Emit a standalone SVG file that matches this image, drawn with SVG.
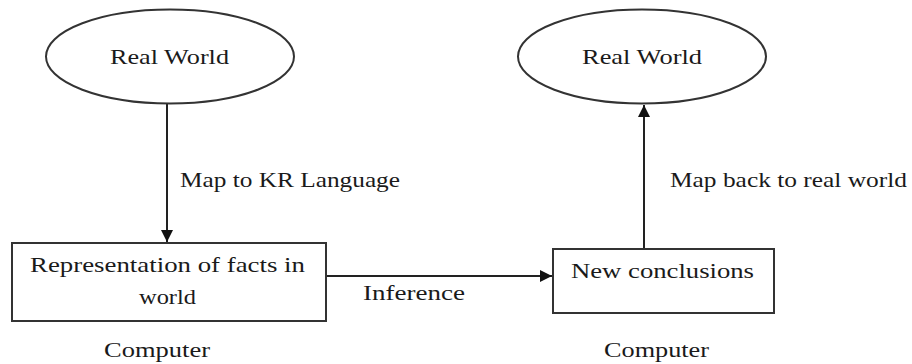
<svg xmlns="http://www.w3.org/2000/svg" width="912" height="364" viewBox="0 0 912 364" font-family="Liberation Serif, DejaVu Serif, serif">
<style>
.t { font-family: "Liberation Serif", "DejaVu Serif", serif; font-size: 22px; fill: #1a1a1a; }
.shape { fill: #fff; stroke: #333; stroke-width: 2; }
.conn { stroke: #222; stroke-width: 2; fill: none; }
</style>
<defs>
<marker id="arr" viewBox="0 0 10 10" refX="10" refY="5" markerWidth="6" markerHeight="6" orient="auto" markerUnits="strokeWidth">
<path d="M0,0 L10,5 L0,10 z" fill="#111"/>
</marker>
</defs>
<rect width="912" height="364" fill="#fff"/>
<g id="connectors">
<line class="conn" x1="167" y1="104" x2="167" y2="242" marker-end="url(#arr)"/>
<line class="conn" x1="326" y1="276" x2="552" y2="276" marker-end="url(#arr)"/>
<line class="conn" x1="644" y1="249" x2="644" y2="105" marker-end="url(#arr)"/>
<text class="t" x="180" y="187" textLength="220" lengthAdjust="spacingAndGlyphs">Map to KR Language</text>
<text class="t" x="670" y="187" textLength="237" lengthAdjust="spacingAndGlyphs">Map back to real world</text>
<text class="t" x="363" y="300" textLength="102" lengthAdjust="spacingAndGlyphs">Inference</text>
</g>
<g id="realworld1">
<ellipse class="shape" cx="170" cy="56.5" rx="124" ry="47"/>
<text class="t" x="110" y="64" textLength="119" lengthAdjust="spacingAndGlyphs">Real World</text>
</g>
<g id="realworld2">
<ellipse class="shape" cx="642" cy="56.5" rx="124" ry="47"/>
<text class="t" x="582" y="64" textLength="120" lengthAdjust="spacingAndGlyphs">Real World</text>
</g>
<g id="representation">
<rect class="shape" x="12" y="243" width="314" height="78"/>
<text class="t" x="30" y="272" textLength="275" lengthAdjust="spacingAndGlyphs">Representation of facts in</text>
<text class="t" x="139" y="304" textLength="57" lengthAdjust="spacingAndGlyphs">world</text>
</g>
<g id="conclusions">
<rect class="shape" x="553" y="249" width="221" height="64"/>
<text class="t" x="571" y="278" textLength="183" lengthAdjust="spacingAndGlyphs">New conclusions</text>
</g>
<g id="computer1">
<text class="t" x="104" y="357" textLength="106" lengthAdjust="spacingAndGlyphs">Computer</text>
</g>
<g id="computer2">
<text class="t" x="604" y="357" textLength="105" lengthAdjust="spacingAndGlyphs">Computer</text>
</g>
</svg>
